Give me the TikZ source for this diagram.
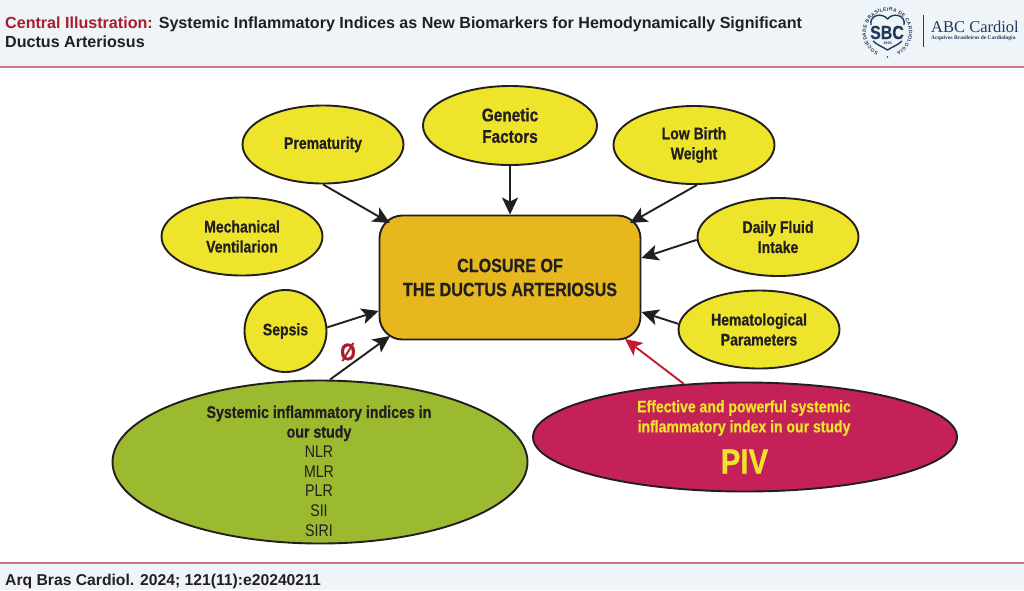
\documentclass[tikz,border=0pt]{standalone}
\usepackage{fontspec}
\setmainfont{Liberation Sans}
\newfontfamily\narrowfont[FakeStretch=0.84,BoldFeatures={FakeStretch=0.84,FakeBold=0.6}]{Liberation Sans}
\newfontfamily\serifface{Liberation Serif}
\usetikzlibrary{arrows.meta}
\usetikzlibrary{shapes.geometric}
\usetikzlibrary{decorations.text}
\definecolor{inkdark}{HTML}{231F20}
\definecolor{bandblue}{HTML}{EFF4F9}
\definecolor{bandrule}{HTML}{CC7483}
\definecolor{titlered}{HTML}{A81C2B}
\definecolor{bubbleyellow}{HTML}{EDE42B}
\definecolor{boxorange}{HTML}{E6B81E}
\definecolor{studygreen}{HTML}{9BBA30}
\definecolor{pivcrimson}{HTML}{C32157}
\definecolor{arrowred}{HTML}{C4192E}
\definecolor{sbcnavy}{HTML}{1F3A5C}
\tikzset{
  factor/.style={draw=inkdark, line width=1.9pt, ellipse, inner sep=0pt, fill=bubbleyellow,
    minimum width=161pt, minimum height=78pt, align=center, text=inkdark,
    font=\narrowfont\bfseries\fontsize{16.7}{20}\selectfont},
  caption/.style={inner sep=0pt, align=center, text=inkdark},
  headline/.style={anchor=base west, inner sep=0pt, text=inkdark, font=\bfseries\fontsize{16.1}{16}\selectfont},
  arr/.style={draw=inkdark, line width=1.9pt, -{Stealth[length=17pt,width=16pt,inset=4pt]}},
  band/.style={fill=bandblue, draw=none},
}
\begin{document}
\begin{tikzpicture}[x=1pt,y=-1pt]
\useasboundingbox (0,0) rectangle (1024,590);
% header and footer
\fill[band] (0,0) rectangle (1024,67);
\fill[band] (0,563) rectangle (1024,590);
\draw[bandrule, line width=1.1pt] (0,67) -- (1024,67);
\draw[bandrule, line width=1.1pt] (0,563) -- (1024,563);
\node[headline] (title) at (5,28)
  {\textcolor{titlered}{Central Illustration:} Systemic Inflammatory Indices as New Biomarkers for Hemodynamically Significant};
\node[headline] (titletwo) at (5,47) {Ductus Arteriosus};
\node[headline, font=\bfseries\fontsize{15.7}{16}\selectfont] (cite) at (5,585) {Arq Bras Cardiol. 2024; 121(11):e20240211};
% logo
\path[postaction={decorate, decoration={text along path, text align={fit to path},
    text={|\fontsize{4.9}{6}\selectfont\bfseries\color{sbcnavy}|SOCIEDADE BRASILEIRA DE CARDIOLOGIA}}}]
  (878.4,52) arc[start angle=-115, end angle=-425, radius=21.5pt];
\fill[sbcnavy] (887.5,57) circle[radius=0.9pt];
\draw[sbcnavy, line width=1.4pt, line join=round] (871,25) .. controls (869,15) and (882,12) .. (887.5,19)
  .. controls (893,12) and (906,15) .. (904,25);
\draw[sbcnavy, line width=1.4pt, line join=round] (873,41) .. controls (877,45) and (883,47) .. (887.5,50)
  .. controls (892,47) and (898,45) .. (902,41);
\node[inner sep=0pt, text=sbcnavy, font=\narrowfont\bfseries\fontsize{19}{19}\selectfont] (sbc) at (887,32.5) {SBC};
\node[inner sep=0pt, text=sbcnavy, font=\bfseries\fontsize{3.8}{4}\selectfont] (sbcyear) at (887.5,43.5) {1943};
\draw[sbcnavy, line width=0.7pt] (923,15) -- (923,47);
\node[anchor=base west, inner sep=0pt, text=sbcnavy, font=\serifface\fontsize{16.5}{17}\selectfont] (abc) at (931,32) {ABC Cardiol};
\node[anchor=base west, inner sep=0pt, text=sbcnavy, font=\serifface\bfseries\fontsize{5.5}{6}\selectfont] (abcsub) at (931,39.5) {Arquivos Brasileiros de Cardiologia};
% central box
\node[draw=inkdark, line width=1.9pt, fill=boxorange, rounded corners=23pt, inner sep=0pt,
  minimum width=261pt, minimum height=124pt, align=center, text=inkdark,
  font=\narrowfont\bfseries\fontsize{19.2}{24}\selectfont] (closure) at (510,277.5)
  {CLOSURE OF\\THE DUCTUS ARTERIOSUS};
% risk factors
\node[factor] (prem) at (323,144.5) {Prematurity};
\node[factor, minimum width=174pt, minimum height=79pt, font=\narrowfont\bfseries\fontsize{18.3}{21.5}\selectfont] (genetic) at (510,125.5) {Genetic\\Factors};
\node[factor] (birth) at (694,145) {Low Birth\\Weight};
\node[factor] (vent) at (242,236.5) {Mechanical\\Ventilarion};
\node[factor] (fluid) at (778,237) {Daily Fluid\\Intake};
\node[factor, minimum width=82pt, minimum height=82pt] (sepsis) at (285.5,331) {Sepsis};
\node[factor] (hema) at (759,329.5) {Hematological\\Parameters};
% study ellipses
\node[factor, fill=studygreen, minimum width=415pt, minimum height=163pt] (study) at (320,462) {};
\node[caption, font=\narrowfont\fontsize{16.9}{19.7}\selectfont] (studytext) at (319,471)
  {\textbf{Systemic inflammatory indices in}\\\textbf{our study}\\NLR\\MLR\\PLR\\SII\\SIRI};
\node[factor, fill=pivcrimson, minimum width=424pt, minimum height=109pt] (piv) at (745,437) {};
\node[caption, text=bubbleyellow, font=\narrowfont\bfseries\fontsize{16.7}{20}\selectfont] (pivtext) at (744,418)
  {Effective and powerful systemic\\inflammatory index in our study};
\node[caption, text=bubbleyellow, font=\narrowfont\bfseries\fontsize{35}{35}\selectfont] (pivname) at (744.5,461.5) {PIV};
% connectors
\draw[arr] (prem.south) -- ([xshift=-120pt,yshift=54.5pt]closure.center);
\draw[arr] (genetic.south) -- (closure.north);
\draw[arr] ([xshift=3pt]birth.south) -- ([xshift=120pt,yshift=54.5pt]closure.center);
\draw[arr] (fluid.182) -- ([yshift=19.5pt]closure.east);
\draw[arr] (hema.176) -- ([yshift=-34.5pt]closure.east);
\draw[arr] (sepsis.5) -- ([yshift=-33.5pt]closure.west);
\draw[arr] ([xshift=10pt]study.north) -- ([xshift=-120pt,yshift=-58.5pt]closure.center);
\draw[arr, draw=arrowred] (piv.139) -- ([xshift=115pt,yshift=-61.5pt]closure.center);
\node[inner sep=0pt, text=titlered, font=\narrowfont\bfseries\fontsize{24}{24}\selectfont] (nullmark) at (348,352) {Ø};
\end{tikzpicture}
\end{document}
